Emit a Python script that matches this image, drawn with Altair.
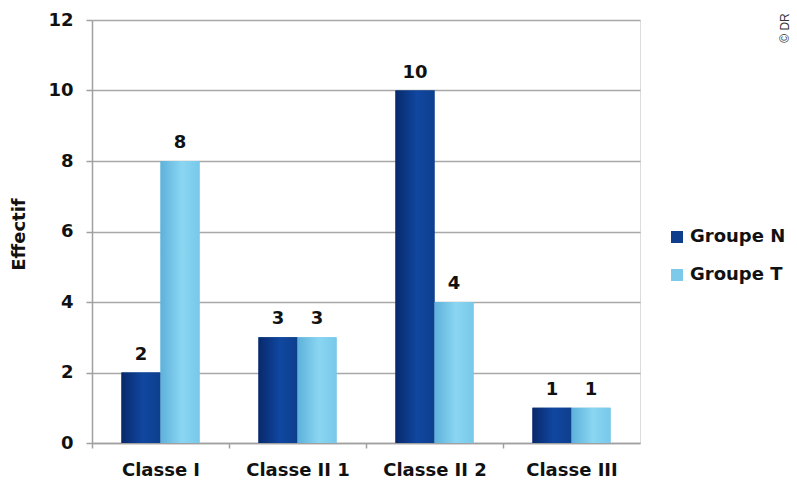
import altair as alt
import pandas as pd

# Effectifs par classe pour chaque groupe
classes = ["Classe I", "Classe II 1", "Classe II 2", "Classe III"]
groupe_n = [2, 3, 10, 1]
groupe_t = [8, 3, 4, 1]
groupes = ["Groupe N", "Groupe T"]
y_ticks = [0, 2, 4, 6, 8, 10, 12]

rows = []
for c, n, t in zip(classes, groupe_n, groupe_t):
    rows.append({"classe": c, "groupe": groupes[0], "effectif": n})
    rows.append({"classe": c, "groupe": groupes[1], "effectif": t})
df = pd.DataFrame(rows)

FONT = "DejaVu Sans"
dark, light = "#0f3f8c", "#7cc9ea"
STEP = 137

x_enc = alt.X(
    "classe:N",
    sort=classes,
    scale=alt.Scale(paddingInner=0.43, paddingOuter=0.215),
    axis=alt.Axis(
        title=None, labelAngle=0, labelFont=FONT, labelFontSize=18,
        labelFontWeight="bold", labelColor="#111", labelPadding=13,
        domainColor="#a0a0a0", domainWidth=1.5, tickColor="#a0a0a0",
        tickWidth=1.5, tickSize=5, tickOffset=-STEP / 2,
        labelOffset=STEP / 2, grid=False,
    ),
)
y_enc = alt.Y(
    "effectif:Q",
    scale=alt.Scale(domain=[0, 12], nice=False),
    axis=alt.Axis(
        title="Effectif", values=y_ticks, labelFont=FONT, labelFontSize=18,
        labelFontWeight="bold", labelColor="#111", labelPadding=13,
        tickSize=6, tickColor="#a0a0a0", tickWidth=1.5,
        domainColor="#a0a0a0", domainWidth=1.5,
        gridColor="#a8a8a8", gridWidth=1.5,
        titleFont=FONT, titleFontSize=18, titleFontWeight="bold",
        titleColor="#111", titleX=-73, titleY=214, titleAlign="center",
        titleBaseline="middle",
    ),
)
xoff = alt.XOffset("groupe:N", sort=groupes)

base = alt.Chart(df)

# soft shadow to the right of each bar
shadow = base.mark_bar(color="#000", opacity=0.08, xOffset=4).encode(
    x=x_enc, xOffset=xoff, y=y_enc)

bars = base.mark_bar().encode(
    x=x_enc, xOffset=xoff, y=y_enc,
    color=alt.Color(
        "groupe:N", sort=groupes,
        scale=alt.Scale(domain=groupes, range=[dark, light]),
        legend=alt.Legend(
            title=None, orient="none", legendX=576, legendY=208,
            symbolType="square", symbolSize=144, labelFont=FONT,
            labelFontSize=18, labelFontWeight="bold", labelColor="#111",
            rowPadding=20, labelOffset=4,
        ),
    ),
)

grad_n = alt.Gradient(
    gradient="linear", x1=0, y1=0, x2=1, y2=0,
    stops=[alt.GradientStop(color="#08296b", offset=0),
           alt.GradientStop(color="#1047a0", offset=0.55),
           alt.GradientStop(color="#0e3f8e", offset=1)],
)
grad_t = alt.Gradient(
    gradient="linear", x1=0, y1=0, x2=1, y2=0,
    stops=[alt.GradientStop(color="#5eb1db", offset=0),
           alt.GradientStop(color="#8ad6f2", offset=0.55),
           alt.GradientStop(color="#78c8ea", offset=1)],
)

bars_n = base.transform_filter(alt.datum.groupe == groupes[0]).mark_bar(
    color=grad_n).encode(x=x_enc, xOffset=xoff, y=y_enc)
bars_t = base.transform_filter(alt.datum.groupe == groupes[1]).mark_bar(
    color=grad_t).encode(x=x_enc, xOffset=xoff, y=y_enc)

labels = base.mark_text(
    dy=-13, font=FONT, fontSize=18, fontWeight="bold", color="#111",
    baseline="alphabetic",
).encode(x=x_enc, xOffset=xoff, y=y_enc, text="effectif:Q")

credit = alt.Chart(pd.DataFrame({"t": ["© DR"]})).mark_text(
    angle=270, font="Liberation Sans", fontSize=12, color="#333",
    align="center", baseline="middle",
).encode(x=alt.value(693), y=alt.value(8), text="t:N")

chart = alt.layer(shadow, bars, bars_n, bars_t, labels, credit).properties(
    width=548, height=423,
    autosize=alt.AutoSizeParams(type="none"),
    padding={"left": 92, "top": 20, "right": 157, "bottom": 42},
).configure_view(stroke=None).configure(background="white")

chart.save("out.html", embed_options={"renderer": "svg", "actions": False})
